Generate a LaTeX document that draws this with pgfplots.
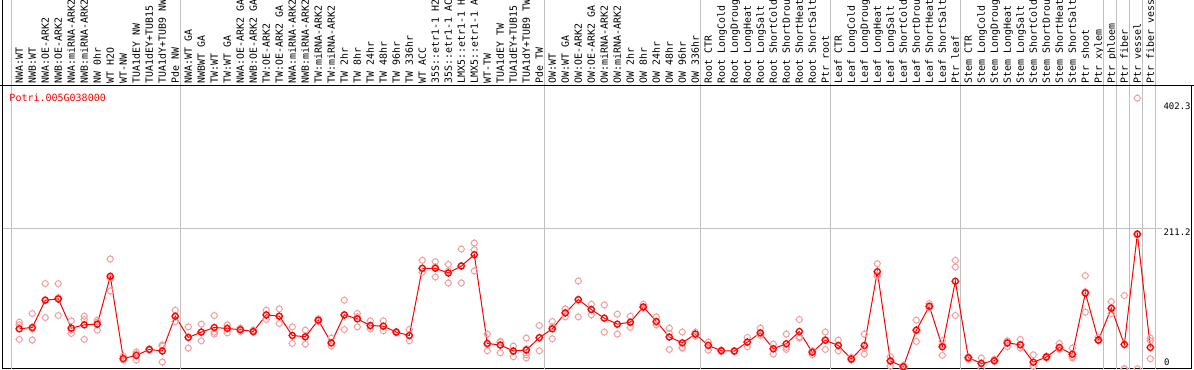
\documentclass[border=0pt]{standalone}
\usepackage{pgfplots}
\usepackage{pgfplotstable}
\pgfplotsset{compat=1.18}
\usepackage{fontspec}
\setmainfont{DejaVu Sans Mono}
\setmonofont{DejaVu Sans Mono}
\definecolor{gridgray}{RGB}{192,192,192}
\definecolor{reppink}{RGB}{240,160,160}
\pgfdeclareplotmark{ocross}{%
  \pgfpathcircle{\pgfpointorigin}{\pgfplotmarksize}%
  \pgfpathmoveto{\pgfpoint{0pt}{\pgfplotmarksize}}\pgfpathlineto{\pgfpoint{0pt}{1.3\pgfplotmarksize}}%
  \pgfpathmoveto{\pgfpoint{0pt}{-\pgfplotmarksize}}\pgfpathlineto{\pgfpoint{0pt}{-1.3\pgfplotmarksize}}%
  \pgfpathmoveto{\pgfpoint{\pgfplotmarksize}{0pt}}\pgfpathlineto{\pgfpoint{1.3\pgfplotmarksize}{0pt}}%
  \pgfpathmoveto{\pgfpoint{-\pgfplotmarksize}{0pt}}\pgfpathlineto{\pgfpoint{-1.3\pgfplotmarksize}{0pt}}%
  \pgfusepathqstroke}

\pgfplotstableread{
x y
0 60
1 62
2 103
3 105
4 61
5 66
6 67
7 139
8 15.3
9 20
10 29
11 26.7
12 79
13 47
14 55
15 62
16 60.5
17 58.7
18 56
19 81
20 79
21 50
22 48
23 73
24 39
25 81
26 75
27 65
28 64
29 55
30 50
31 151
32 151
33 144
34 154.5
35 171.5
36 38
37 35.6
38 26.6
39 28
40 46.7
41 60
42 84
43 104
44 89
45 76
46 67
47 70
48 93
49 71
50 47.7
51 39
52 52
53 35
54 27
55 26.5
56 40
57 54
58 30
59 37.6
60 56
61 24.6
62 42.7
63 35
64 14.6
65 35
66 146
67 11.6
68 3
69 58
70 94
71 33
72 131.5
73 16.5
74 8
75 12
76 38.7
77 36
78 9.7
79 17.6
80 32
81 21.7
82 113.9
83 43
84 91
85 36.5
86 202.6
87 32
}\means

\pgfplotstableread{
x y
0 70
0 66
0 44
1 83
1 43
1 60
2 128
2 77
2 104
3 128
3 80
3 107
4 72
4 53
4 58
5 79
5 44
5 74
6 73
6 70
6 58
7 165
7 117
7 136
8 19
8 14
8 13
9 25
9 13
9 22
10 30
10 28
10 29
11 34
11 10
11 36
12 88
12 71
12 78
13 63
13 31
13 48
14 67
14 42
14 55
15 80
15 52
15 55
16 66
16 54
16 61
17 61
17 56
17 59
18 58
18 55
18 55
19 88
19 74
19 81
20 90
20 68
20 79
21 63
21 38
21 50
22 58
22 37
22 48
23 75
23 71
23 73
24 46
24 34
24 38
25 103
25 59
25 81
26 83
26 63
26 78
27 72
27 60
27 64
28 72
28 57
28 64
29 55
29 56
29 54
30 59
30 42
30 50
31 163
31 145
31 151
32 161
32 138
32 153
33 157
33 129
33 147
34 180
34 129
34 155
35 189
35 147
35 179
36 52
36 27
36 36
37 41
37 24
37 40
38 34
38 18
38 27
39 46
39 16
39 21
39 30
40 65
40 27
40 47
41 71
41 45
41 63
42 90
42 78
42 84
43 132
43 78
43 103
44 97
44 81
44 89
45 96
45 55
45 76
46 82
46 52
46 67
47 79
47 62
47 69
48 97
48 91
48 92
49 78
49 66
49 70
50 61
50 29
50 53
51 55
51 32
51 31
52 55
52 49
52 52
53 40
53 28
53 36
54 27
54 26
54 28
55 27
55 26
55 27
56 47
56 33
56 40
57 61
57 50
57 52
58 37
58 22
58 30
59 52
59 29
59 32
60 74
60 46
60 48
61 27
61 21
61 26
62 55
62 29
62 44
63 43
63 27
63 35
64 17
64 13
64 14
65 52
65 22
65 31
66 158
66 139
66 141
67 18
67 4
67 13
68 5
68 0
68 3
69 73
69 41
69 58
70 98
70 92
70 93
71 42
71 20
71 36
72 163
72 153
72 80
73 18
73 14
73 17
74 16
74 1
74 8
75 14
75 11
75 12
76 42
76 33
76 41
77 44
77 31
77 36
78 21
78 4
78 4
79 19
79 16
79 18
80 38
80 29
80 30
81 31
81 18
81 16
82 140
82 85
82 116
83 47
83 42
83 43
84 101
84 83
84 90
85 110
85 0
85 0
86 407
86 0
86 201
87 46
87 42
87 15
}\reps

\begin{document}
\begin{tikzpicture}
\useasboundingbox (0,0) rectangle (1194bp,370bp);
\begin{scope}[overlay]
\clip (0,0) rectangle (1194bp,370bp);
\begin{axis}[
  at={(2bp,1.3bp)}, anchor=south west,
  scale only axis, width=1189bp, height=283.4bp,
  xmin=-1.3308, xmax=90.13, ymin=0, ymax=426.3,
  clip=false,
  axis line style={black, line width=1bp},
  major tick length=0pt,
  ytick=\empty,
  xtick={0,...,87},
  xticklabel pos=right,
  xticklabel shift=2bp,
  x tick label style={rotate=90, anchor=west, inner sep=0pt,
     text height=7bp, text depth=0pt,
     font=\fontsize{9.9bp}{10bp}\selectfont\ttfamily},
  xticklabels={NWA:WT,NWB:WT,NWA:OE-ARK2,NWB:OE-ARK2,NWA:miRNA-ARK2,NWB:miRNA-ARK2,NW 0hr,WT H2O,WT-NW,TUA1dEY NW,TUA1dEY+TUB15 NW,TUA1dY+TUB9 NW,Pde NW,
  NWA:WT GA,NWBWT GA,TW:WT,TW:WT GA,NWA:OE-ARK2 GA,NWB:OE-ARK2 GA,TW:OE-ARK2,TW:OE-ARK2 GA,NWA:miRNA-ARK2 GA,NWB:miRNA-ARK2 GA,TW:miRNA-ARK2,TW:miRNA-ARK2 GA,TW 2hr,TW 8hr,TW 24hr,TW 48hr,TW 96hr,TW 336hr,WT ACC,35S::etr1-1 H2O,35S::etr1-1 ACC,LMX5::etr1-1 H2O,LMX5::etr1-1 ACC,WT-TW,TUA1dEY TW,TUA1dEY+TUB15 TW,TUA1dY+TUB9 TW,Pde TW,
  OW:WT,OW:WT GA,OW:OE-ARK2,OW:OE-ARK2 GA,OW:miRNA-ARK2,OW:miRNA-ARK2 GA,OW 2hr,OW 8hr,OW 24hr,OW 48hr,OW 96hr,OW 336hr,
  Root CTR,Root LongCold,Root LongDrought,Root LongHeat,Root LongSalt,Root ShortCold,Root ShortDrought,Root ShortHeat,Root ShortSalt,Ptr root,
  Leaf CTR,Leaf LongCold,Leaf LongDrought,Leaf LongHeat,Leaf LongSalt,Leaf ShortCold,Leaf ShortDrought,Leaf ShortHeat,Leaf ShortSalt,Ptr leaf,
  Stem CTR,Stem LongCold,Stem LongDrought,Stem LongHeat,Stem LongSalt,Stem ShortCold,Stem ShortDrought,Stem ShortHeat,Stem ShortSalt,Ptr shoot,
  Ptr xylem,Ptr phloem,Ptr fiber,Ptr vessel,Ptr fiber vessel},
]
\pgfplotsinvokeforeach{-0.62,12.38,40.38,52.4,62.4,72.4,83.38,84.4,85.38,86.4,87.38}{
  \draw[gridgray, line width=1bp] (axis cs:#1,0) -- (axis cs:#1,560);
}
\draw[gridgray, line width=1bp] (axis cs:-1.33,211.2) -- (axis cs:87.9,211.2);
\draw[black, line width=1bp] (axis cs:-1.3308,0) -- (axis cs:-1.3308,560);
\draw[black, line width=1bp] (axis cs:-1.6,426.3) -- (axis cs:90.5,426.3);

\addplot[only marks, mark=ocross, mark size=3bp, color=reppink,
  mark options={line width=1bp}] table[x=x,y=y] {\reps};
\addplot[red, line width=1bp, mark=ocross, mark size=3bp,
  mark options={line width=1.3bp, solid}] table[x=x,y=y] {\means};
\end{axis}
\node[anchor=base west, inner sep=0pt, text=red, font=\fontsize{10bp}{11bp}\selectfont\ttfamily] at (9.3bp,268.3bp) {Potri.005G038000};
\node[anchor=west, inner sep=0pt, font=\fontsize{9bp}{10bp}\selectfont\ttfamily] at (1163.3bp,263.3bp) {402.3};
\node[anchor=west, inner sep=0pt, font=\fontsize{9bp}{10bp}\selectfont\ttfamily] at (1163.3bp,138bp) {211.2};
\node[anchor=west, inner sep=0pt, font=\fontsize{9bp}{10bp}\selectfont\ttfamily] at (1164bp,8bp) {0};
\end{scope}
\end{tikzpicture}
\end{document}
